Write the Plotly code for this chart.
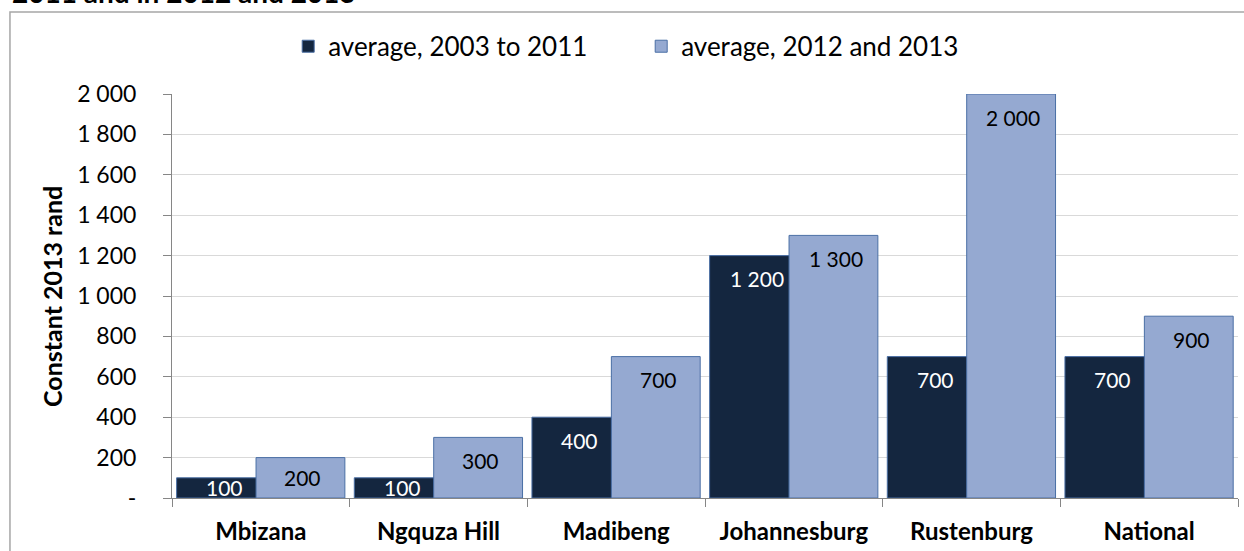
import plotly.graph_objects as go

categories = ["Mbizana", "Ngquza Hill", "Madibeng", "Johannesburg", "Rustenburg", "National"]
avg_2003_2011 = [100, 100, 400, 1200, 700, 700]
avg_2012_2013 = [200, 300, 700, 1300, 2000, 900]
y_tick_vals = [0, 200, 400, 600, 800, 1000, 1200, 1400, 1600, 1800, 2000]
y_tick_text = ["-", "200", "400", "600", "800", "1 000", "1 200", "1 400", "1 600", "1 800", "2 000"]

DARK = "#14263F"
LIGHT = "#95A9D1"
EDGE = "#4A6FA5"
FONT = "Lato"


def fmt(v):
    return f"{v:,}".replace(",", " ")


fig = go.Figure()
fig.add_trace(go.Bar(
    x=categories, y=avg_2003_2011, name="average, 2003 to 2011",
    marker=dict(color=DARK, line=dict(color=EDGE, width=1)),
    width=0.5, offset=-0.474,
))
fig.add_trace(go.Bar(
    x=categories, y=avg_2012_2013, name="average, 2012 and 2013",
    marker=dict(color=LIGHT, line=dict(color=EDGE, width=1)),
    width=0.5, offset=-0.027,
))

annotations = []
for i, (a, b) in enumerate(zip(avg_2003_2011, avg_2012_2013)):
    for v, dx, col in ((a, -0.205, "white"), (b, 0.236, "black")):
        small = v < 250
        annotations.append(dict(
            x=i + dx, y=v / 2 if small else v, xref="x", yref="y",
            text=fmt(v), showarrow=False, yanchor="middle", xanchor="center",
            yshift=0 if small else -23,
            font=dict(family=FONT, size=21, color=col),
        ))

# y-axis title
annotations.append(dict(
    x=-0.1126, y=0.5, xref="paper", yref="paper", text="<b>Constant 2013 rand</b>",
    textangle=-90, showarrow=False, xanchor="center", yanchor="middle",
    font=dict(family=FONT, size=25, color="black"),
))
# last line of the figure heading
annotations.append(dict(
    x=-0.152, y=(498 - 11) / 404, xref="paper", yref="paper",
    text="<b>2011 and in 2012 and 2013</b>", showarrow=False,
    xanchor="left", yanchor="bottom",
    font=dict(family=FONT, size=28, color="black"),
))

fig.update_layout(
    width=1244, height=551,
    margin=dict(l=172, r=6, t=94, b=53),
    paper_bgcolor="white", plot_bgcolor="white",
    barmode="overlay",
    showlegend=True,
    legend=dict(
        orientation="h", x=0.109, xanchor="left", y=1.118, yanchor="middle",
        font=dict(family=FONT, size=26, color="black"),
        traceorder="normal", entrywidth=308, bgcolor="rgba(0,0,0,0)",
    ),
    annotations=annotations,
    shapes=[dict(
        type="rect", xref="paper", yref="paper",
        x0=-0.152, x1=1.2, y0=-0.3, y1=(498 - 12) / 404,
        line=dict(color="#A6A6A6", width=1.5), fillcolor="rgba(0,0,0,0)",
        layer="below",
    )],
    font=dict(family=FONT, color="black"),
)

fig.update_xaxes(
    type="category", range=[-0.5, 5.5],
    showline=True, linecolor="#868686", linewidth=1,
    ticks="outside", tickson="boundaries", ticklen=8, tickcolor="#868686",
    showgrid=False,
    tickfont=dict(family=FONT, size=24, color="black"),
    tickprefix="<b>", ticksuffix="</b>",
    ticklabelstandoff=12,
)
fig.update_yaxes(
    range=[0, 2000], tickvals=y_tick_vals, ticktext=y_tick_text,
    showline=True, linecolor="#868686", linewidth=1,
    ticks="outside", ticklen=8, tickcolor="#868686",
    showgrid=True, gridcolor="#D9D9D9", gridwidth=1,
    zeroline=False,
    tickfont=dict(family=FONT, size=23, color="black"),
    ticklabelstandoff=22,
)

fig.write_html("out.html")
